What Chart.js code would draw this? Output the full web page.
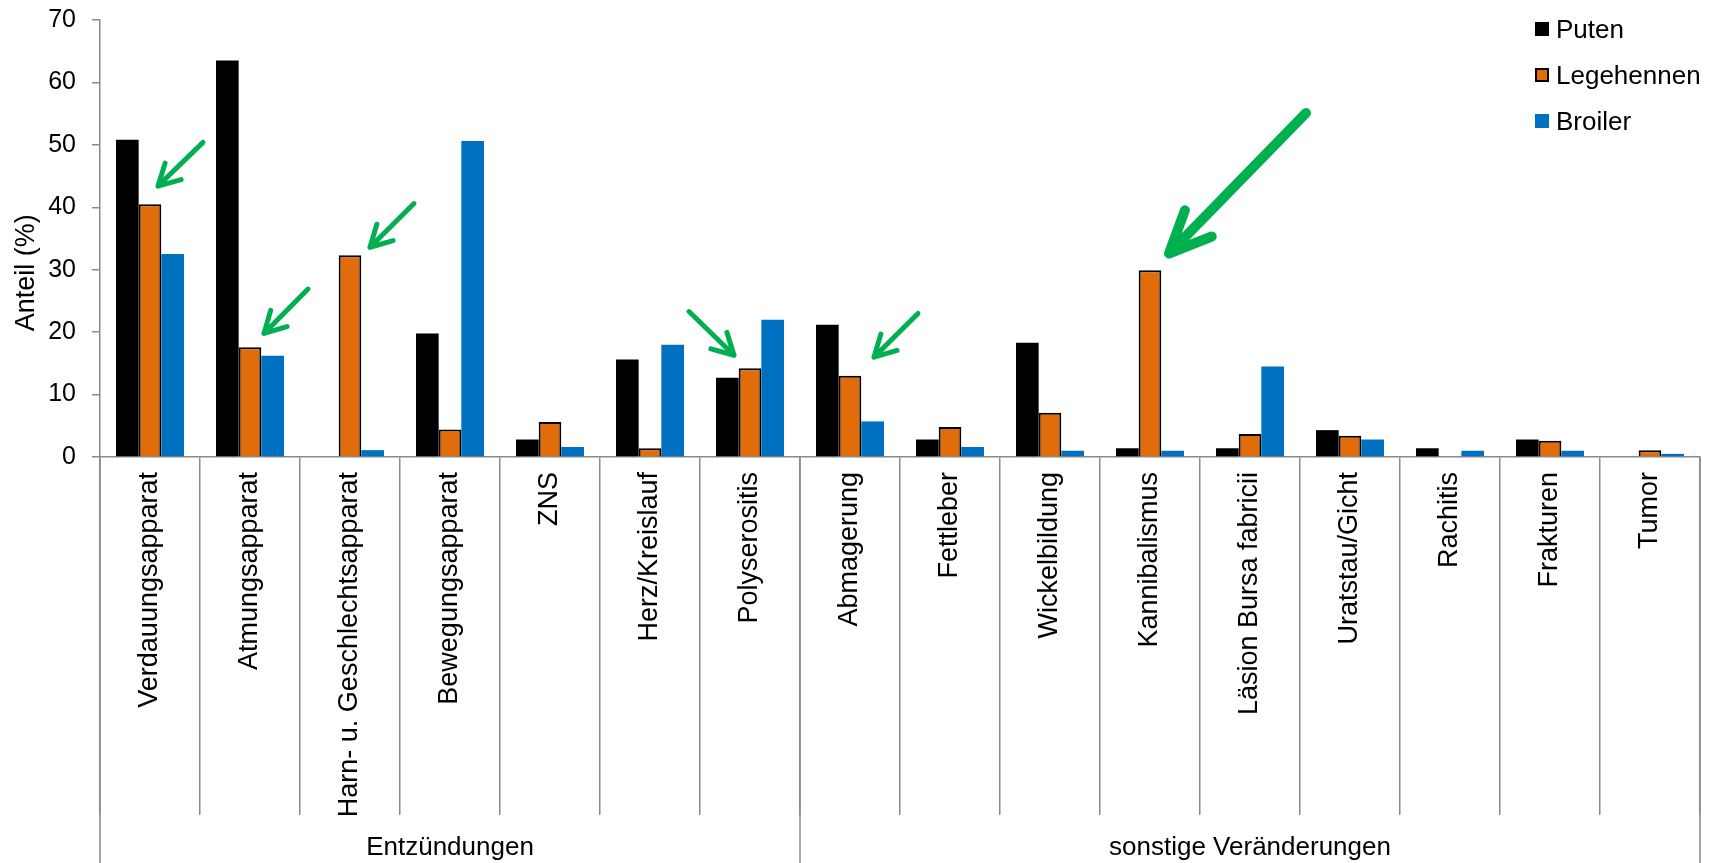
<!DOCTYPE html>
<html lang="de">
<head>
<meta charset="utf-8">
<title>Befunde nach Tierart</title>
<script src="https://cdn.jsdelivr.net/npm/chart.js@4.4.1/dist/chart.umd.min.js"></script>
<style>
    html, body { margin: 0; padding: 0; background: #fff; }
    #wrap { position: relative; width: 1713px; height: 863px; }
    #legend { position: absolute; left: 1535px; top: 6px; font: 26px "Liberation Sans", Arial, sans-serif; color: #000; }
    #legend .item { display: flex; align-items: center; height: 46px; }
    #legend .box { width: 14px; height: 14px; box-sizing: border-box; margin-right: 7px; }
</style>
</head>
<body>
<div id="wrap">
    <canvas id="befundChart"></canvas>
    <div id="legend"></div>
</div>
<script>
const categories = [
    "Verdauungsapparat", "Atmungsapparat", "Harn- u. Geschlechtsapparat", "Bewegungsapparat",
    "ZNS", "Herz/Kreislauf", "Polyserositis", "Abmagerung", "Fettleber", "Wickelbildung",
    "Kannibalismus", "Läsion Bursa fabricii", "Uratstau/Gicht", "Rachitis", "Frakturen", "Tumor"
];
const puten      = [50.8, 63.5, 0, 19.8, 2.8, 15.6, 12.7, 21.2, 2.8, 18.3, 1.4, 1.4, 4.3, 1.4, 2.8, 0];
const legehennen = [40.5, 17.6, 32.3, 4.4, 5.6, 1.4, 14.2, 13.0, 4.8, 7.1, 29.9, 3.7, 3.4, 0, 2.6, 1.1];
const broiler    = [32.5, 16.2, 1.1, 50.6, 1.6, 18.0, 22.0, 5.7, 1.6, 1.0, 1.0, 14.5, 2.8, 1.0, 1.0, 0.5];
const yTicks = [0, 10, 20, 30, 40, 50, 60, 70];

const groupNames = ["Entzündungen", "sonstige Veränderungen"];
const groupSizes = [7, 9];

// green hint arrows, ends given as [category position, value]
const arrows = [
    { from: [0.53, 50.4], to: [0.08, 43.4], width: 5, head: 24, spread: 0.5 },
    { from: [1.58, 26.9], to: [1.14, 19.8], width: 5, head: 24, spread: 0.5 },
    { from: [2.64, 40.6], to: [2.20, 33.6], width: 5, head: 24, spread: 0.5 },
    { from: [5.39, 23.3], to: [5.84, 16.3], width: 5, head: 24, spread: 0.5 },
    { from: [7.68, 23.0], to: [7.24, 16.0], width: 5, head: 24, spread: 0.5 },
    { from: [11.56, 55.1], to: [10.19, 32.6], width: 10, head: 46, spread: 0.42 }
];

const axisGray = "#8a8a8a";
const font = "Liberation Sans, Arial, sans-serif";
Chart.defaults.font.family = font;
Chart.defaults.color = "#000";

function drawArrow(ctx, x1, y1, x2, y2, a) {
    const ang = Math.atan2(y1 - y2, x1 - x2);
    ctx.save();
    ctx.strokeStyle = "#00b050";
    ctx.lineWidth = a.width;
    ctx.lineCap = "round";
    ctx.lineJoin = "round";
    ctx.beginPath();
    ctx.moveTo(x1, y1);
    ctx.lineTo(x2, y2);
    [-1, 1].forEach(function (s) {
        ctx.moveTo(x2 + a.head * Math.cos(ang + s * a.spread), y2 + a.head * Math.sin(ang + s * a.spread));
        ctx.lineTo(x2, y2);
    });
    ctx.stroke();
    ctx.restore();
}

const extras = {
    id: "extras",
    afterDraw(chart) {
        const ctx = chart.ctx;
        const x = chart.scales.x;
        const y = chart.scales.y;
        const bottom = chart.height;

        // group brackets below the category labels
        ctx.save();
        ctx.strokeStyle = axisGray;
        ctx.lineWidth = 1.5;
        ctx.fillStyle = "#000";
        ctx.font = "26px " + font;
        ctx.textAlign = "center";
        ctx.textBaseline = "middle";
        let start = 0;
        const edges = [x.getPixelForValue(-0.5)];
        groupSizes.forEach(function (n, i) {
            const left = x.getPixelForValue(start - 0.5);
            const right = x.getPixelForValue(start + n - 0.5);
            edges.push(right);
            ctx.fillText(groupNames[i], (left + right) / 2, bottom - 15);
            start += n;
        });
        ctx.beginPath();
        edges.forEach(function (px) {
            ctx.moveTo(px, y.bottom);
            ctx.lineTo(px, bottom);
        });
        ctx.stroke();

        // y axis title
        ctx.translate(27, y.getPixelForValue(29.5));
        ctx.rotate(-Math.PI / 2);
        ctx.font = "27px " + font;
        ctx.fillText("Anteil (%)", 0, 0);
        ctx.restore();

        arrows.forEach(function (a) {
            drawArrow(ctx,
                x.getPixelForValue(a.from[0]), y.getPixelForValue(a.from[1]),
                x.getPixelForValue(a.to[0]), y.getPixelForValue(a.to[1]), a);
        });
    }
};

const befundCtx = document.getElementById("befundChart").getContext("2d");
const befundChart = new Chart(befundCtx, {
    type: "bar",
    data: {
        labels: categories,
        datasets: [
            { label: "Puten", data: puten, backgroundColor: "#000000" },
            { label: "Legehennen", data: legehennen, backgroundColor: "#e36c0a", borderColor: "#000", borderWidth: 2 },
            { label: "Broiler", data: broiler, backgroundColor: "#0070c0" }
        ]
    },
    options: {
        responsive: true,
        maintainAspectRatio: false,
        animation: false,
        layout: { padding: { top: 20, right: 13, left: 0, bottom: 0 } },
        datasets: { bar: { barPercentage: 1, categoryPercentage: 0.68 } },
        plugins: { legend: { display: false }, tooltip: { enabled: false } },
        scales: {
            x: {
                grid: { drawOnChartArea: false, tickLength: 358, color: axisGray, lineWidth: 1.5 },
                border: { color: axisGray, width: 1.5 },
                ticks: { autoSkip: false, minRotation: 90, maxRotation: 90, padding: -343, font: { size: 27 } },
                afterFit: function (s) { s.height = 406; }
            },
            y: {
                min: 0,
                max: 70,
                afterBuildTicks: function (s) { s.ticks = yTicks.map(v => ({ value: v })); },
                ticks: { padding: 16, font: { size: 25 } },
                grid: { drawOnChartArea: false, tickLength: 8, color: axisGray, lineWidth: 1.5 },
                border: { color: axisGray, width: 1.5 },
                afterFit: function (s) {
                    s.width = 100;
                    s.paddingTop = 0;
                    s.paddingBottom = 0;
                }
            }
        }
    },
    plugins: [extras]
});

// legend in the top right corner of the plot
const legendBox = document.getElementById("legend");
befundChart.data.datasets.forEach(function (ds) {
    const item = document.createElement("div");
    item.className = "item";
    const box = document.createElement("span");
    box.className = "box";
    box.style.background = ds.backgroundColor;
    if (ds.borderWidth) box.style.border = ds.borderWidth + "px solid " + ds.borderColor;
    item.appendChild(box);
    item.appendChild(document.createTextNode(ds.label));
    legendBox.appendChild(item);
});
</script>
</body>
</html>
